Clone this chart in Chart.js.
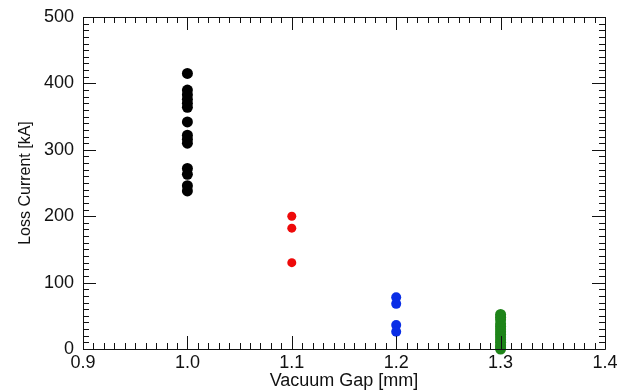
<!DOCTYPE html>
<html>
<head>
<meta charset="utf-8">
<script src="https://cdn.jsdelivr.net/npm/chart.js@4/dist/chart.umd.min.js"></script>
<style>
  html, body { margin: 0; padding: 0; background: #fff; }
  #wrap { width: 629px; height: 392px; }
</style>
</head>
<body>
<div id="wrap"><canvas id="myChart" width="629" height="392"></canvas></div>
<script>
// vacuum gap [mm] for each group
const gaps = [1.0, 1.1, 1.2, 1.3];
// loss current [kA]
const current10 = [415, 390, 383, 376, 370, 364, 342, 322, 316, 310, 272, 263, 246, 238];
const current11 = [200, 182, 130];
const current12 = [78, 68, 36, 26];
const current13 = [52, 48, 44, 38, 34, 30, 26, 22, 18, 14, 10, 6, 3, 0];
const groupColors = ['#000000', '#ee0a0a', '#0a2ee6', '#1e8419'];
const groupRadius = [5.5, 4.5, 5, 5.5];
const xTicks = [0.9, 1.0, 1.1, 1.2, 1.3, 1.4];
const yTicks = [0, 100, 200, 300, 400, 500];

const groups = [current10, current11, current12, current13];
const fontFam = 'Liberation Sans, Arial, sans-serif';

const datasets = groups.map(function (vals, i) {
  return {
    label: gaps[i].toFixed(1),
    data: vals.map(function (v) { return { x: gaps[i], y: v }; }),
    backgroundColor: groupColors[i],
    borderColor: groupColors[i],
    borderWidth: 0,
    pointRadius: groupRadius[i],
    pointHoverRadius: groupRadius[i],
    clip: false
  };
});

// IDL style box with inward major / minor ticks on all four sides
const boxTicks = {
  id: 'boxTicks',
  afterDraw: function (chart) {
    const ctx = chart.ctx;
    const a = chart.chartArea;
    const xs = chart.scales.x;
    const ys = chart.scales.y;
    ctx.save();
    ctx.strokeStyle = '#111';
    ctx.lineWidth = 1;
    ctx.beginPath();
    ctx.rect(Math.round(a.left) + 0.5, Math.round(a.top) + 0.5,
      Math.round(a.right - a.left), Math.round(a.bottom - a.top));
    ctx.stroke();

    ctx.beginPath();
    // x: minor every 0.01
    for (let k = 0; k <= 50; k++) {
      const v = 0.9 + k * 0.01;
      const px = Math.round(xs.getPixelForValue(v)) + 0.5;
      const len = (k % 10 === 0) ? 13 : 6;
      ctx.moveTo(px, a.bottom);
      ctx.lineTo(px, a.bottom - len);
      ctx.moveTo(px, a.top);
      ctx.lineTo(px, a.top + len);
    }
    // y: minor every 10
    for (let k = 0; k <= 50; k++) {
      const v = k * 10;
      const py = Math.round(ys.getPixelForValue(v)) + 0.5;
      const len = (k % 10 === 0) ? 13 : 6;
      ctx.moveTo(a.left, py);
      ctx.lineTo(a.left + len, py);
      ctx.moveTo(a.right, py);
      ctx.lineTo(a.right - len, py);
    }
    ctx.stroke();
    ctx.restore();
  }
};

const config = {
  type: 'scatter',
  data: { datasets: datasets },
  options: {
    responsive: false,
    animation: false,
    layout: { padding: { top: 17, right: 24, left: 0, bottom: 0 } },
    plugins: {
      legend: { display: false },
      tooltip: { enabled: false }
    },
    scales: {
      x: {
        type: 'linear',
        min: 0.9,
        max: 1.4,
        afterBuildTicks: function (s) {
          s.ticks = xTicks.map(function (v) { return { value: v }; });
        },
        afterFit: function (s) {
          s.height = 43;
          s.paddingLeft = 0;
          s.paddingRight = 0;
        },
        grid: { display: false, drawTicks: false },
        border: { display: false },
        ticks: {
          color: '#111',
          padding: 3,
          maxRotation: 0,
          autoSkip: false,
          font: { family: fontFam, size: 18 },
          callback: function (v) { return Number(v).toFixed(1); }
        },
        title: {
          display: true,
          text: 'Vacuum Gap [mm]',
          color: '#111',
          padding: { top: 0, bottom: 0 },
          font: { family: fontFam, size: 18 }
        }
      },
      y: {
        type: 'linear',
        min: 0,
        max: 500,
        afterBuildTicks: function (s) {
          s.ticks = yTicks.map(function (v) { return { value: v }; });
        },
        afterFit: function (s) {
          s.width = 83;
          s.paddingTop = 0;
          s.paddingBottom = 0;
        },
        grid: { display: false, drawTicks: false },
        border: { display: false },
        ticks: {
          color: '#111',
          padding: 9,
          autoSkip: false,
          font: { family: fontFam, size: 18 }
        },
        title: {
          display: true,
          text: 'Loss Current [kA]',
          color: '#111',
          padding: { top: 16, bottom: 0 },
          font: { family: fontFam, size: 16 }
        }
      }
    }
  },
  plugins: [boxTicks]
};

const myChart = new Chart(document.getElementById('myChart'), config);
</script>
</body>
</html>
